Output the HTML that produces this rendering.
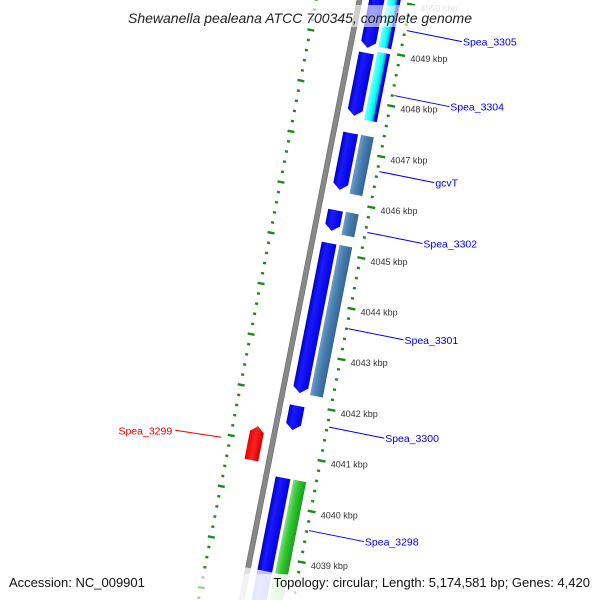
<!DOCTYPE html>
<html><head><meta charset="utf-8"><style>
html,body{margin:0;padding:0;background:#fff;width:600px;height:600px;overflow:hidden}
svg{display:block;overflow:hidden;font-family:"Liberation Sans","DejaVu Sans",sans-serif}
</style></head><body>
<svg id="map" width="600" height="600" viewBox="0 0 600 600">
<defs>
<clipPath id="frame"><rect x="0" y="0" width="600" height="600"/></clipPath>
<linearGradient id="gBlue" x1="0" x2="1" y1="0" y2="0"><stop offset="0" stop-color="#0000c8"/><stop offset="0.35" stop-color="#1a1aff"/><stop offset="1" stop-color="#0000e0"/></linearGradient>
<linearGradient id="gSteel" x1="0" x2="1"><stop offset="0" stop-color="#6a9cc8"/><stop offset="0.4" stop-color="#4a80b4"/><stop offset="1" stop-color="#36648f"/></linearGradient>
<linearGradient id="gCyan" x1="0" x2="1"><stop offset="0" stop-color="#7ff"/><stop offset="0.5" stop-color="#0ff"/><stop offset="0.7" stop-color="#0aa"/><stop offset="0.75" stop-color="#00f"/><stop offset="1" stop-color="#00c"/></linearGradient>
<linearGradient id="gGreen" x1="0" x2="1"><stop offset="0" stop-color="#7ee07e"/><stop offset="0.4" stop-color="#33cc33"/><stop offset="1" stop-color="#229922"/></linearGradient>
<linearGradient id="gRed" x1="0" x2="1"><stop offset="0" stop-color="#e00"/><stop offset="0.5" stop-color="#f22"/><stop offset="1" stop-color="#c00"/></linearGradient>
</defs>
<g clip-path="url(#frame)">
<g id="strip" transform="translate(360,0) rotate(11.1)"></g>
<g id="labels"></g>
<rect x="108" y="5" width="392" height="22" fill="#fff" opacity="0.6"/>
<text x="300" y="23" text-anchor="middle" font-size="14" font-style="italic" fill="#222">Shewanella pealeana ATCC 700345, complete genome</text>
<rect x="0" y="574" width="600" height="26" fill="#fff" opacity="0.6"/>
<text x="9" y="587" font-size="13" fill="#111">Accession: NC_009901</text>
<text x="590" y="587" text-anchor="end" font-size="13" fill="#111">Topology: circular; Length: 5,174,581 bp; Genes: 4,420</text>
</g>
</svg>
<script>
// data
const ring1Starts=[4050.3,4049.04,4047.46,4045.94,4045.29,4042.08,4040.66];
const ring1Ends=[4049.14,4047.80,4046.34,4045.53,4042.33,4041.60,4038.0];
const ring1Arrow=[1,1,1,1,1,1,0];
const ring2Starts=[4050.3,4049.04,4047.40,4045.88,4045.23,4040.60];
const ring2Ends=[4049.14,4047.70,4046.24,4045.43,4042.27,4038.0];
const ring2Colors=["cyan","cyan","steel","steel","steel","green"];
const revStarts=[4041.01];
const revEnds=[4041.68];
const tickKbp=[4050,4049,4048,4047,4046,4045,4044,4043,4042,4041,4040,4039];
const labelNames=["Spea_3305","Spea_3304","gcvT","Spea_3302","Spea_3301","Spea_3300","Spea_3298","Spea_3299"];
const labelKbp=[4049.48,4048.20,4046.70,4045.50,4043.60,4041.66,4039.62,4041.46];
const labelStrand=[1,1,1,1,1,1,1,-1];

const NS="http://www.w3.org/2000/svg";
const TH=11.1*Math.PI/180, C=Math.cos(TH), S=Math.sin(TH);
function yOf(k){return 55+(4049-k)*50.7;}
function uOf(k,v){return (yOf(k)-v*S)/C;}
function toScreen(v,u){return [360+v*C-u*S, v*S+u*C];}
const strip=document.getElementById('strip');
const labels=document.getElementById('labels');
function mk(tag,attrs,parent){const e=document.createElementNS(NS,tag);for(const k in attrs)e.setAttribute(k,attrs[k]);parent.appendChild(e);return e;}

// inner dotted track
for(let k=4051;k>=4037;k-=0.2){
  const kk=Math.round(k*10)/10;
  const u=uOf(kk+0.5,-43);
  const isMaj=Math.abs(kk-Math.round(kk))<0.01;
  const d=mk('rect',{x:isMaj?-46:-44.5,y:u-1,width:isMaj?7:3,height:2.4,fill:'#1a8a1a'},strip);
  
  
}
// outer ticks
for(let k=4051;k>=4037;k-=0.2){
  const kk=Math.round(k*10)/10;
  const u=uOf(kk,50);
  const isMaj=Math.abs(kk-Math.round(kk))<0.01;
  const d=mk('rect',{x:isMaj?47:48.5,y:u-1.2,width:isMaj?8:3,height:2.4,fill:'#1a8a1a'},strip);
  
  
}
// backbone
const bb=mk('rect',{x:-3,y:-50,width:5,height:700,fill:'#888',stroke:'#666','stroke-width':0.6},strip);



function gene(v0,v1,k0,k1,fill,arrow,dir,name){
  const vm=(v0+v1)/2;
  const u0=uOf(k0,vm),u1=uOf(k1,vm);
  let pts;
  if(!arrow){pts=[[v0,u0],[v1,u0],[v1,u1],[v0,u1]];}
  else if(dir>0){pts=[[v0,u0],[v1,u0],[v1,u1-6],[vm,u1],[v0,u1-6]];}
  else{pts=[[v0,u0+6],[vm,u0],[v1,u0+6],[v1,u1],[v0,u1]];}
  const p=mk('polygon',{points:pts.map(q=>q.join(',')).join(' '),fill:fill},strip);
  
  
}
for(let i=0;i<ring1Starts.length;i++) gene(9,24,ring1Starts[i],ring1Ends[i],'url(#gBlue)',ring1Arrow[i],1,'forward-gene-'+i);
const cmap={cyan:'url(#gCyan)',steel:'url(#gSteel)',green:'url(#gGreen)'};
for(let i=0;i<ring2Starts.length;i++) gene(27,40,ring2Starts[i],ring2Ends[i],cmap[ring2Colors[i]],0,1,'second-ring-gene-'+i);
for(let i=0;i<revStarts.length;i++) gene(-25,-11,revEnds[i],revStarts[i],'url(#gRed)',1,-1,'reverse-gene-'+i);
const fade=mk('rect',{x:-30,y:uOf(4038.82,17),width:80,height:60,fill:'#fff',opacity:0.75},strip);



// tick labels
for(const k of tickKbp){
  const [x,y]=toScreen(58,uOf(k,58));
  const t=mk('text',{x:x+2,y:y+7,'font-size':9,fill:k===4050?'#bbb':'#333'},labels);
  t.textContent=k+' kbp';
  
  
}
// gene labels
for(let i=0;i<labelNames.length;i++){
  const st=labelStrand[i];
  const v=st>0?52:-52;
  const [x,y]=toScreen(v,uOf(labelKbp[i],v));
  const col=st>0?'#0000ee':'#ee0000';
  const ex=st>0?x+55:x-46, ey=y+(st>0?11:-7);
  const l=mk('line',{x1:x,y1:y,x2:ex,y2:ey,stroke:col,'stroke-width':1},labels);
  
  
  const t=mk('text',{x:st>0?ex+1:ex-3,y:ey+4,'font-size':10.5,fill:col,'text-anchor':st>0?'start':'end'},labels);
  t.textContent=labelNames[i];
  
  
}
</script>
</body></html>
